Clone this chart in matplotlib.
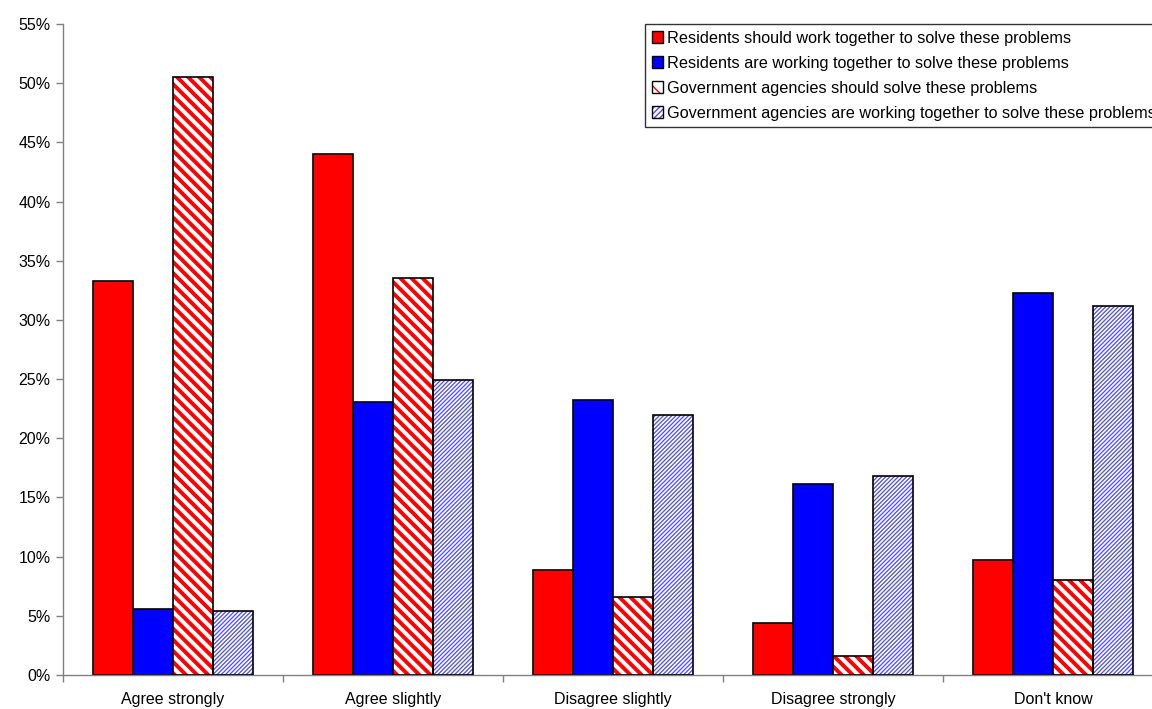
import matplotlib
matplotlib.use("Agg")
import matplotlib.pyplot as plt
from matplotlib.patches import Patch
from matplotlib.ticker import FixedLocator, FuncFormatter
import numpy as np

categories = ["Agree strongly", "Agree slightly", "Disagree slightly",
              "Disagree strongly", "Don't know"]
series_names = [
    "Residents should work together to solve these problems",
    "Residents are working together to solve these problems",
    "Government agencies should solve these problems",
    "Government agencies are working together to solve these problems",
]
res_should = [33.3, 44.0, 8.9, 4.4, 9.7]
res_are = [5.6, 23.1, 23.2, 16.1, 32.3]
gov_should = [50.5, 33.5, 6.6, 1.6, 8.0]
gov_are = [5.4, 24.9, 22.0, 16.8, 31.2]

plt.rcParams["font.family"] = ["Liberation Sans", "DejaVu Sans"]

fig = plt.figure(figsize=(11.52, 7.09), dpi=100)
ax = fig.add_axes([63 / 1152, 34 / 709, 1100 / 1152, 651 / 709])

n = len(categories)
x = np.arange(n) + 0.5
w = 40 / 220

styles = [
    dict(values=res_should, face="#ff0000", hatch=None, hcolor=None, hlw=None,
         lhatch=None, llw=None),
    dict(values=res_are, face="#0000ff", hatch=None, hcolor=None, hlw=None,
         lhatch=None, llw=None),
    dict(values=gov_should, face="white", hatch="\\\\\\", hcolor="#ff0000", hlw=2.8,
         lhatch="\\\\", llw=4.5),
    dict(values=gov_are, face="white", hatch="////////", hcolor="#4a4aff", hlw=0.9,
         lhatch="//////", llw=0.9),
]


def make_hatched(factory, hatch, hcolor, hlw):
    with plt.rc_context({"hatch.linewidth": hlw, "hatch.color": hcolor}):
        artists = factory()
        for a in artists:
            if hasattr(a, "set_hatch_linewidth"):
                a.set_hatch_linewidth(hlw)
    return artists


for i, st in enumerate(styles):
    xpos = x + (i - 1.5) * w
    if st["hatch"] is None:
        ax.bar(xpos, st["values"], w, color=st["face"], edgecolor="black",
               linewidth=1.2, zorder=2)
    else:
        make_hatched(lambda: ax.bar(xpos, st["values"], w, color=st["face"],
                                    edgecolor=st["hcolor"], linewidth=0,
                                    hatch=st["hatch"], zorder=2),
                     st["hatch"], st["hcolor"], st["hlw"])
        ax.bar(xpos, st["values"], w, fill=False, edgecolor="black",
               linewidth=1.2, zorder=3)

ax.set_xlim(0, n)
ax.set_ylim(0, 55)
ax.yaxis.set_major_locator(FixedLocator(np.arange(0, 56, 5)))
ax.yaxis.set_major_formatter(FuncFormatter(lambda v, p: f"{int(round(v))}%"))
ax.set_xticks(np.arange(0, n + 1), minor=True)
ax.set_xticks(x)
ax.set_xticklabels(categories)
ax.tick_params(axis="x", which="major", length=0, pad=12, labelsize=11.5)
ax.tick_params(axis="x", which="minor", length=5, width=1, color="#808080",
               direction="out")
ax.tick_params(axis="y", length=5, width=1, color="#808080", direction="out",
               labelsize=11.5, pad=4)
for side in ("top", "right"):
    ax.spines[side].set_visible(False)
for side in ("left", "bottom"):
    ax.spines[side].set_color("#808080")
    ax.spines[side].set_linewidth(1)

# legend handles: hatched fill plus black outline drawn on top of each other
handles = []
for st in styles:
    if st["hatch"] is None:
        handles.append(Patch(facecolor=st["face"], edgecolor="black", linewidth=1))
    else:
        hp = make_hatched(lambda: [Patch(facecolor=st["face"], edgecolor=st["hcolor"],
                                         linewidth=0, hatch=st["lhatch"])],
                          st["lhatch"], st["hcolor"], st["llw"])[0]
        outline = Patch(fill=False, edgecolor="black", linewidth=1)
        handles.append((hp, outline))

# the legend box runs past the right edge of the figure, clipping the last label
leg = fig.legend(handles, series_names, loc="upper left",
                 bbox_to_anchor=(645 / 1152, 1 - 24 / 709), fontsize=11.7,
                 frameon=True, fancybox=False, handlelength=0.7,
                 handleheight=0.7, handletextpad=0.25, labelspacing=0.62,
                 borderpad=0.4, borderaxespad=0)
leg.get_frame().set_edgecolor("black")
leg.get_frame().set_linewidth(1)

fig.savefig("out.png", dpi=100)
